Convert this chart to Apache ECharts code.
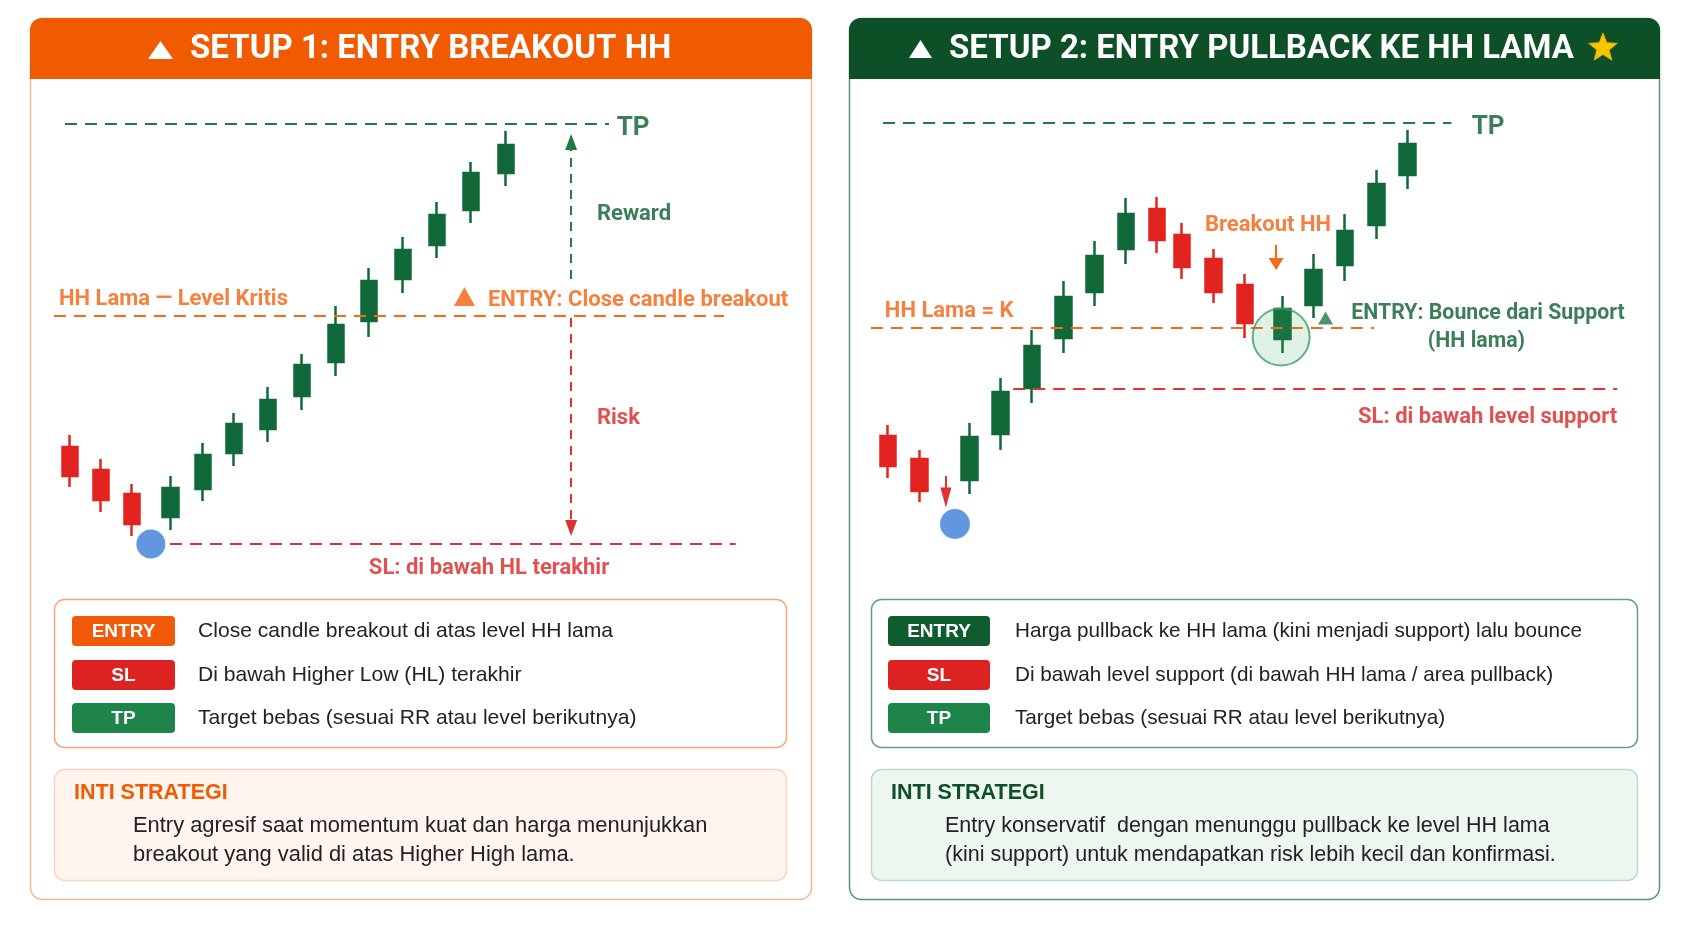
<!DOCTYPE html>
<html><head><meta charset="utf-8">
<script src="https://cdn.jsdelivr.net/npm/echarts@6/dist/echarts.min.js"></script>
<style>html,body{margin:0;padding:0;background:#fff}#c{width:1691px;height:930px}</style>
</head><body><div id="c"></div>
<script>
// ---------- DATA ----------
const leftTitle = 'SETUP 1: ENTRY BREAKOUT HH';
const rightTitle = 'SETUP 2: ENTRY PULLBACK KE HH LAMA';

// Setup 1 candles (position, open, close, low, high)
const leftX     = [1.0, 1.92, 2.85, 4.0, 4.96, 5.89, 6.9, 7.92, 8.93, 9.91, 10.93, 11.94, 12.95, 14.0];
const leftOpen  = [15.3, 13.0, 10.6, 8.3, 11.1, 14.7, 17.1, 20.4, 23.8, 27.9, 32.1, 35.5, 39.0, 42.7];
const leftClose = [12.4, 10.0, 7.6, 11.2, 14.5, 17.6, 20.0, 23.5, 27.5, 31.9, 35.0, 38.5, 42.7, 45.5];
const leftLow   = [11.3, 8.8, 6.4, 7.0, 9.9, 13.4, 15.8, 19.0, 22.4, 26.3, 30.7, 34.2, 37.7, 41.4];
const leftHigh  = [16.5, 14.1, 11.6, 12.4, 15.7, 18.7, 21.3, 24.6, 29.4, 33.2, 36.3, 39.8, 43.8, 46.9];
const leftTP = 47.6, leftHH = 28.4, leftSL = 5.6;

// Setup 2 candles
const rightX     = [1.0, 2.0, 3.6, 4.6, 5.6, 6.6, 7.6, 8.6, 9.6, 10.4, 11.4, 12.4, 13.6, 14.6, 15.6, 16.6, 17.6];
const rightOpen  = [16.4, 14.1, 12.0, 16.6, 21.2, 26.2, 30.8, 35.1, 39.1, 36.5, 34.1, 31.5, 26.1, 29.5, 33.5, 37.5, 42.5];
const rightClose = [13.4, 10.9, 16.3, 20.8, 25.4, 30.3, 34.4, 38.6, 36.0, 33.3, 30.8, 27.7, 29.1, 33.0, 36.9, 41.6, 45.6];
const rightLow   = [12.2, 9.8, 10.6, 15.0, 19.7, 24.7, 29.4, 33.6, 34.7, 32.1, 29.7, 26.2, 24.7, 28.2, 31.9, 36.1, 41.1];
const rightHigh  = [17.5, 15.0, 17.7, 22.2, 27.0, 31.9, 35.9, 40.2, 40.3, 37.7, 35.1, 32.6, 30.4, 34.6, 38.6, 43.0, 47.0];
const rightTP = 47.7, rightHH = 27.2, rightSL = 21.1;

// Text content
const leftChartTexts = ['TP', 'Reward', 'Risk', 'HH Lama — Level Kritis', 'ENTRY: Close candle breakout', 'SL: di bawah HL terakhir'];
const rightChartTexts = ['TP', 'HH Lama = K', 'SL: di bawah level support', 'Breakout HH', 'ENTRY: Bounce dari Support', '(HH lama)'];
const badgeLabels = ['ENTRY', 'SL', 'TP'];
const leftRules = ['Close candle breakout di atas level HH lama', 'Di bawah Higher Low (HL) terakhir', 'Target bebas (sesuai RR atau level berikutnya)'];
const rightRules = ['Harga pullback ke HH lama (kini menjadi support) lalu bounce', 'Di bawah level support (di bawah HH lama / area pullback)', 'Target bebas (sesuai RR atau level berikutnya)'];
const coreTitle = 'INTI STRATEGI';
const leftCore = ['Entry agresif saat momentum kuat dan harga menunjukkan', 'breakout yang valid di atas Higher High lama.'];
const rightCore = ['Entry konservatif  dengan menunggu pullback ke level HH lama', '(kini support) untuk mendapatkan risk lebih kecil dan konfirmasi.'];

// ---------- STYLE ----------
const FONT = 'Roboto, "Noto Sans", "DejaVu Sans", sans-serif';
const SANS = '"Liberation Sans", Arial, "DejaVu Sans", sans-serif';
const ORANGE = '#F05A00', RED = '#D92626', GREEN = '#0B5E2E', DKGREEN = '#0D4F27', BLUE = '#3B7DD8';
const LBL_ORANGE = '#F2600F';
const CANDLE_UP = '#11693A', CANDLE_DN = '#E2231F';

function txt(x, y, text, size, color, weight, align, family) {
  return { type: 'text', x: x, y: y, z: 20,
    style: { text: text, fill: color, font: (weight || 'normal') + ' ' + size + 'px ' + (family || FONT),
      textAlign: align || 'left', textVerticalAlign: 'middle', verticalAlign: 'middle' } };
}
function rect(x, y, w, h, r, fill, stroke, lw, z) {
  return { type: 'rect', z: z || 1, shape: { x: x, y: y, width: w, height: h, r: r },
    style: { fill: fill, stroke: stroke || null, lineWidth: lw || 0 } };
}
function starPoints(cx, cy, R, r) {
  const pts = [];
  for (let i = 0; i < 10; i++) {
    const a = -Math.PI / 2 + i * Math.PI / 5;
    const rr = i % 2 === 0 ? R : r;
    pts.push([cx + rr * Math.cos(a), cy + rr * Math.sin(a)]);
  }
  return pts;
}

function label(x, y, text, size, color, pos) {
  return { value: [x, y], label: { show: true, position: pos || 'right', distance: 0,
    formatter: text, color: color, fontSize: size, fontWeight: 'bold', fontFamily: FONT } };
}
function hline(x1, x2, y, color, dash) {
  return [{ coord: [x1, y], lineStyle: { color: color, width: 2, type: dash || [12, 8] } }, { coord: [x2, y] }];
}
function arrow(x, y1, y2, color, size, dash) {
  return [{ coord: [x, y1], lineStyle: { color: color, width: 2, type: dash } },
          { coord: [x, y2], symbol: 'triangle', symbolSize: size }];
}

// ---------- GRAPHICS (panels, headers, tables) ----------
const graphic = [];
// Left panel
graphic.push(rect(30.5, 18.5, 781, 881, 12, '#FFFFFF', '#F9B68C', 1.5, 0));
graphic.push(rect(30, 18, 782, 61, [12, 12, 0, 0], ORANGE, null, 0, 1));
graphic.push({ type: 'polygon', z: 5, shape: { points: [[148, 59], [173, 59], [160.5, 41]] }, style: { fill: '#fff' } });
graphic.push(txt(190, 50, leftTitle, 33, '#FFFFFF', 'bold'));
// Right panel
graphic.push(rect(849.5, 18.5, 810, 881, 12, '#FFFFFF', '#4F9A6C', 1.5, 0));
graphic.push(rect(849, 18, 811, 61, [12, 12, 0, 0], DKGREEN, null, 0, 1));
graphic.push({ type: 'polygon', z: 5, shape: { points: [[909, 58], [932, 58], [920.5, 40]] }, style: { fill: '#fff' } });
graphic.push(txt(949, 50, rightTitle, 33, '#FFFFFF', 'bold'));
graphic.push({ type: 'polygon', z: 5, shape: { points: starPoints(1603, 48, 15, 6.5) }, style: { fill: '#F7C600', stroke: '#E8A800', lineWidth: 1, lineJoin: 'round' } });

// Tables
function table(x, w, border, badgeX, badgeW, badgeColors, descX, rules, ruleSize, coreFill, coreStroke, coreColor, coreX, core, coreSize) {
  graphic.push(rect(x, 599.5, w, 148, 10, '#FFFFFF', border, 1.5, 1));
  const ys = [616, 660, 703];
  badgeLabels.forEach(function (b, i) {
    graphic.push(rect(badgeX, ys[i], badgeW, 30, 4, badgeColors[i], null, 0, 2));
    graphic.push(txt(badgeX + badgeW / 2, ys[i] + 15.5, b, 19, '#FFFFFF', 'bold', 'center', SANS));
    graphic.push(txt(descX, ys[i] + 15, rules[i], ruleSize, '#222222', 'normal', 'left', SANS));
  });
  graphic.push(rect(x, 769.5, w, 111, 10, coreFill, coreStroke, 1.5, 1));
  graphic.push(txt(x + 19.5, 793, coreTitle, 21.5, coreColor, 'bold', 'left', SANS));
  graphic.push(txt(coreX, 826, core[0], coreSize, '#222222', 'normal', 'left', SANS));
  graphic.push(txt(coreX, 855, core[1], coreSize, '#222222', 'normal', 'left', SANS));
}
table(54.5, 732, '#F7A677', 72, 103, ['#F15A0B', '#DD2222', '#1E8449'], 198, leftRules, 21.1, '#FFF5EE', '#FBD5BF', ORANGE, 133, leftCore, 21.9);
table(871.5, 766, '#5EA57A', 888, 102, ['#0F5C2E', '#DD2222', '#1E8449'], 1015, rightRules, 20.7, '#EEF6F0', '#BBDDC6', DKGREEN, 945, rightCore, 21.5);

// ---------- SERIES ----------
function candles(xs, o, c, l, h) { return xs.map(function (x, i) { return [x, o[i], c[i], l[i], h[i]]; }); }
const candleStyle = { color: CANDLE_UP, color0: CANDLE_DN, borderColor: CANDLE_UP, borderColor0: CANDLE_DN, borderWidth: 2.5 };

const option = {
  animation: false,
  backgroundColor: '#ffffff',
  grid: [
    { left: 36.5, top: 100, width: 771.4, height: 500 },
    { left: 856.7, top: 100, width: 782.5, height: 500 }
  ],
  xAxis: [
    { type: 'value', gridIndex: 0, min: 0, max: 23, show: false },
    { type: 'value', gridIndex: 1, min: 0, max: 25, show: false }
  ],
  yAxis: [
    { type: 'value', gridIndex: 0, min: 0, max: 50, show: false },
    { type: 'value', gridIndex: 1, min: 0, max: 50, show: false }
  ],
  graphic: graphic,
  series: [
    { type: 'candlestick', xAxisIndex: 0, yAxisIndex: 0, z: 3, barWidth: 16, itemStyle: candleStyle,
      data: candles(leftX, leftOpen, leftClose, leftLow, leftHigh) },
    { type: 'candlestick', xAxisIndex: 1, yAxisIndex: 1, z: 3, barWidth: 16, itemStyle: candleStyle,
      data: candles(rightX, rightOpen, rightClose, rightLow, rightHigh) },
    // Left annotations
    { type: 'scatter', xAxisIndex: 0, yAxisIndex: 0, z: 6, symbolSize: 0, silent: true,
      data: [
        label(17.3, leftTP - 0.4, leftChartTexts[0], 26, GREEN),
        label(16.71, 38.55, leftChartTexts[1], 22, GREEN),
        label(16.71, 18.15, leftChartTexts[2], 22, RED),
        label(0.67, 30.05, leftChartTexts[3], 22, LBL_ORANGE),
        label(13.46, 29.95, leftChartTexts[4], 22, LBL_ORANGE),
        label(9.91, 3.15, leftChartTexts[5], 22, RED)
      ],
      markLine: { silent: true, animation: false, symbol: ['none', 'none'], label: { show: false }, z: 5,
        data: [
          hline(0.85, 17.07, leftTP, '#1F7A45'),
          hline(0.52, 20.5, leftHH, '#F26A1B'),
          hline(3.98, 20.85, leftSL, '#E03131'),
          arrow(15.94, 32.1, 45.8, '#1F7A45', [12, 16], [9, 7]),
          arrow(15.94, 28.2, 7.2, '#E03131', [12, 16], [9, 7])
        ] }
    },
    { type: 'scatter', xAxisIndex: 0, yAxisIndex: 0, z: 7, silent: true,
      data: [
        { value: [3.41, leftSL], symbol: 'circle', symbolSize: 29, itemStyle: { color: BLUE } },
        { value: [12.76, 30.35], symbol: 'triangle', symbolSize: [21, 19], itemStyle: { color: LBL_ORANGE } }
      ] },
    // Right annotations
    { type: 'scatter', xAxisIndex: 1, yAxisIndex: 1, z: 6, symbolSize: 0, silent: true,
      data: [
        label(19.65, rightTP - 0.4, rightChartTexts[0], 26, GREEN),
        label(0.9, 28.85, rightChartTexts[1], 22, LBL_ORANGE),
        label(24.3, 18.25, rightChartTexts[2], 22, RED, 'left'),
        label(13.14, 37.45, rightChartTexts[3], 22, LBL_ORANGE, 'inside'),
        label(15.8, 28.65, rightChartTexts[4], 21.3, GREEN),
        label(19.8, 25.85, rightChartTexts[5], 21.3, GREEN, 'inside')
      ],
      markLine: { silent: true, animation: false, symbol: ['none', 'none'], label: { show: false }, z: 5,
        data: [
          hline(0.84, 19.0, rightTP, '#1F7A45'),
          hline(0.45, 16.53, rightHH, '#F26A1B'),
          hline(5.0, 24.3, rightSL, '#E03131'),
          arrow(13.4, 35.5, 33.6, '#F26A1B', [15, 12], 'solid'),
          arrow(2.85, 12.4, 10.25, '#E03131', [11, 20], 'solid')
        ] }
    },
    { type: 'scatter', xAxisIndex: 1, yAxisIndex: 1, z: 7, silent: true,
      data: [
        { value: [3.14, 7.6], symbol: 'circle', symbolSize: 30, itemStyle: { color: BLUE } },
        { value: [13.56, 26.3], symbol: 'circle', symbolSize: 57, itemStyle: { color: 'rgba(60,170,100,0.2)', borderColor: '#3E9E63', borderWidth: 2 } },
        { value: [14.98, 28.2], symbol: 'triangle', symbolSize: [15, 13], itemStyle: { color: '#1F7A45' } }
      ] }
  ]
};

const chart = echarts.init(document.getElementById('c'), null, { renderer: 'canvas' });
chart.setOption(option);
</script>
</body></html>
